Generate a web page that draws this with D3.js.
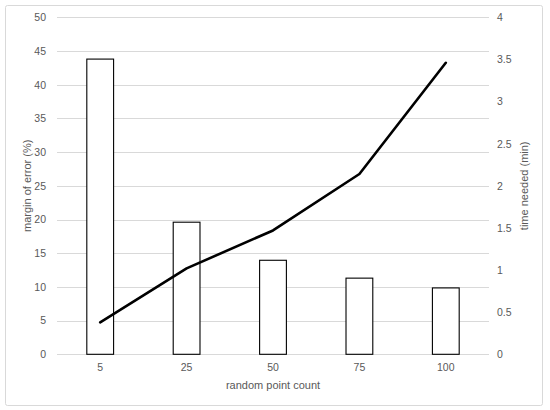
<!DOCTYPE html>
<html><head><meta charset="utf-8">
<script src="https://cdn.jsdelivr.net/npm/d3@7"></script>
<style>html,body{margin:0;padding:0;background:#fff;}</style>
</head><body>
<svg id="c" width="550" height="410"></svg>
<script>
const categories = ["5", "25", "50", "75", "100"];
const marginOfError = [43.8, 19.6, 13.95, 11.3, 9.85];
const timeNeeded = [0.38, 1.02, 1.47, 2.14, 3.46];
const leftTicks = [0, 5, 10, 15, 20, 25, 30, 35, 40, 45, 50];
const rightTicks = [0, 0.5, 1, 1.5, 2, 2.5, 3, 3.5, 4];

const svg = d3.select("#c");
const L = 57, R = 489, T = 17.3, B = 354.3;
const font = "Liberation Sans, Arial, sans-serif";

svg.append("rect").attr("x", 5.5).attr("y", 5.5).attr("width", 537).attr("height", 400)
  .attr("rx", 2).attr("fill", "#fff").attr("stroke", "#d9d9d9");

const x = d3.scaleBand().domain(categories).range([L, R]).paddingInner(0.69).paddingOuter(0.345);
const yL = d3.scaleLinear().domain([0, 50]).range([B, T]);
const yR = d3.scaleLinear().domain([0, 4]).range([B, T]);

// gridlines
svg.append("g").selectAll("line").data(leftTicks).join("line")
  .attr("x1", L).attr("x2", R)
  .attr("y1", d => Math.round(yL(d)) + 0.5).attr("y2", d => Math.round(yL(d)) + 0.5)
  .attr("stroke", "#d9d9d9").attr("stroke-width", 1);

// left axis
const axL = d3.axisLeft(yL).tickValues(leftTicks).tickSize(0).tickPadding(11);
const gL = svg.append("g").attr("transform", `translate(${L},0)`).call(axL);
gL.select(".domain").remove();
gL.selectAll("text").attr("fill", "#595959").style("font-family", font).style("font-size", "10.5px");

// right axis
const axR = d3.axisRight(yR).tickValues(rightTicks).tickSize(0).tickPadding(8)
  .tickFormat(d => d3.format("")(d));
const gR = svg.append("g").attr("transform", `translate(${R},0)`).call(axR);
gR.select(".domain").remove();
gR.selectAll("text").attr("fill", "#595959").style("font-family", font).style("font-size", "10.5px");

// bottom axis
const axB = d3.axisBottom(x).tickSize(0).tickPadding(9);
const gB = svg.append("g").attr("transform", `translate(0,${B})`).call(axB);
gB.select(".domain").remove();
gB.selectAll("text").attr("fill", "#595959").style("font-family", font).style("font-size", "10.5px");

// bars
svg.append("g").selectAll("rect").data(categories).join("rect")
  .attr("x", d => x(d)).attr("width", x.bandwidth())
  .attr("y", (d, i) => yL(marginOfError[i]))
  .attr("height", (d, i) => B - yL(marginOfError[i]))
  .attr("fill", "#fff").attr("stroke", "#000").attr("stroke-width", 1.1);

// line
const line = d3.line().x((d, i) => x(categories[i]) + x.bandwidth() / 2).y(d => yR(d));
svg.append("path").datum(timeNeeded).attr("d", line)
  .attr("fill", "none").attr("stroke", "#000").attr("stroke-width", 2.6)
  .attr("stroke-linejoin", "round").attr("stroke-linecap", "round");

// axis titles
svg.append("text").attr("transform", `translate(31,${(T + B) / 2}) rotate(-90)`)
  .attr("text-anchor", "middle").attr("fill", "#595959")
  .style("font-family", font).style("font-size", "11px").text("margin of error (%)");
svg.append("text").attr("transform", `translate(528,${(T + B) / 2}) rotate(-90)`)
  .attr("text-anchor", "middle").attr("fill", "#595959")
  .style("font-family", font).style("font-size", "11px").text("time needed (min)");
svg.append("text").attr("x", (L + R) / 2).attr("y", 389)
  .attr("text-anchor", "middle").attr("fill", "#595959")
  .style("font-family", font).style("font-size", "11px").text("random point count");
</script>
</body></html>
